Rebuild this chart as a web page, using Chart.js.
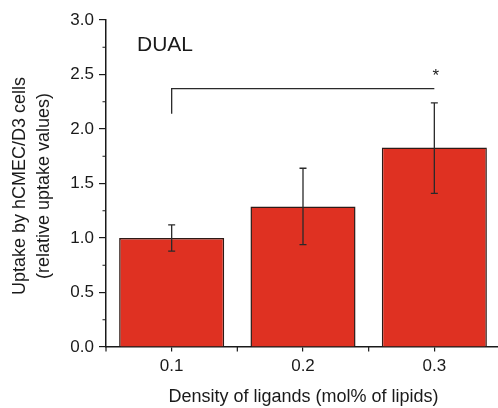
<!DOCTYPE html>
<html><head><meta charset="utf-8">
<script src="https://cdn.jsdelivr.net/npm/chart.js@4.4.0/dist/chart.umd.min.js"></script>
<style>html,body{margin:0;padding:0;background:#fff}#wrap{width:498px;height:408px}</style>
</head><body><div id="wrap"><canvas id="c" width="498" height="408"></canvas></div>
<script>
const categories = ['0.1', '0.2', '0.3'];
const uptake = [1.00, 1.29, 1.83];
const errUpper = [1.12, 1.64, 2.24];
const errLower = [0.88, 0.94, 1.41];
const yTickValues = [0, 0.5, 1.0, 1.5, 2.0, 2.5, 3.0];
const yMinorValues = [0.25, 0.75, 1.25, 1.75, 2.25, 2.75];
const bracketFrom = 0, bracketTo = 2, bracketLevel = 2.37, bracketLeftEnd = 2.14;
const sigLabel = '*';
const panelLabel = 'DUAL';
const xTitle = 'Density of ligands (mol% of lipids)';
const yTitle = ['Uptake by hCMEC/D3 cells', '(relative uptake values)'];

const FONT = '"Liberation Sans", Arial, sans-serif';
const INK = '#1a1a1a';

const extras = {
  id: 'extras',
  afterLayout(chart) {
    // the category axis of the original runs slightly past the canvas edge
    const x = chart.scales.x;
    x.right = 500;
    x.width = x.right - x.left;
    x.configure();
  },
  afterDatasetsDraw(chart) {
    const ctx = chart.ctx, x = chart.scales.x, y = chart.scales.y;
    ctx.save();
    // error bars
    ctx.strokeStyle = '#2a2a2a';
    ctx.lineWidth = 1.3;
    uptake.forEach((v, i) => {
      const px = x.getPixelForValue(i);
      const yt = y.getPixelForValue(errUpper[i]);
      const yb = y.getPixelForValue(errLower[i]);
      ctx.beginPath();
      ctx.moveTo(px, yt); ctx.lineTo(px, yb);
      ctx.moveTo(px - 3.5, yt); ctx.lineTo(px + 3.5, yt);
      ctx.moveTo(px - 3.5, yb); ctx.lineTo(px + 3.5, yb);
      ctx.stroke();
    });
    // significance bracket
    const bx1 = x.getPixelForValue(bracketFrom), bx2 = x.getPixelForValue(bracketTo);
    const by = y.getPixelForValue(bracketLevel);
    ctx.lineWidth = 1.3;
    ctx.beginPath();
    ctx.moveTo(bx1, y.getPixelForValue(bracketLeftEnd));
    ctx.lineTo(bx1, by);
    ctx.lineTo(bx2, by);
    ctx.stroke();
    ctx.fillStyle = INK;
    ctx.font = '17px ' + FONT;
    ctx.textAlign = 'center';
    ctx.textBaseline = 'middle';
    ctx.fillText(sigLabel, bx2 + 1.5, by - 12);
    // minor ticks y
    ctx.lineWidth = 1.2;
    ctx.strokeStyle = INK;
    ctx.beginPath();
    yMinorValues.forEach(v => {
      const py = y.getPixelForValue(v);
      ctx.moveTo(chart.chartArea.left - 3.5, py);
      ctx.lineTo(chart.chartArea.left, py);
    });
    // minor ticks x at category boundaries
    const step = x.getPixelForValue(1) - x.getPixelForValue(0);
    for (let i = 0; i < categories.length; i++) {
      const px = x.getPixelForValue(i) - step / 2;
      ctx.moveTo(px, chart.chartArea.bottom);
      ctx.lineTo(px, chart.chartArea.bottom + 4.5);
    }
    ctx.stroke();
    // panel label
    ctx.font = '21px ' + FONT;
    ctx.textAlign = 'left';
    ctx.textBaseline = 'alphabetic';
    ctx.fillText(panelLabel, 137, 51);
    // x title
    ctx.font = '18px ' + FONT;
    ctx.textAlign = 'center';
    ctx.fillText(xTitle, 303.5, 402);
    // y title
    ctx.translate(0, 186);
    ctx.rotate(-Math.PI / 2);
    ctx.textBaseline = 'alphabetic';
    ctx.fillText(yTitle[0], 0, 25);
    ctx.fillText(yTitle[1], 0, 49);
    ctx.restore();
  }
};

new Chart(document.getElementById('c'), {
  type: 'bar',
  data: {
    labels: categories,
    datasets: [{
      data: uptake,
      backgroundColor: '#DF3122',
      borderColor: '#2e1a16',
      borderWidth: 1.5,
      categoryPercentage: 1.0,
      barPercentage: 0.8
    }]
  },
  options: {
    responsive: false,
    animation: false,
    devicePixelRatio: 1,
    layout: { padding: { top: 20, right: 0, left: 0, bottom: 0 }, autoPadding: false },
    plugins: { legend: { display: false }, tooltip: { enabled: false } },
    scales: {
      x: {
        afterFit(s) { s.height = 61; },
        grid: { display: true, drawOnChartArea: false, drawTicks: true, tickLength: 4.5, offset: false, color: INK, lineWidth: 1.2 },
        border: { display: true, color: INK, width: 1.5 },
        ticks: { color: INK, font: { family: FONT, size: 17 }, padding: 5 }
      },
      y: {
        min: 0, max: 3,
        afterFit(s) { s.width = 106; },
        afterBuildTicks(s) { s.ticks = yTickValues.map(v => ({ value: v })); },
        grid: { display: true, drawOnChartArea: false, drawTicks: true, tickLength: 7, color: INK, lineWidth: 1.2 },
        border: { display: true, color: INK, width: 1.5 },
        ticks: { color: INK, font: { family: FONT, size: 17 }, padding: 5, callback: v => Number(v).toFixed(1) }
      }
    }
  },
  plugins: [extras]
});
</script></body></html>
